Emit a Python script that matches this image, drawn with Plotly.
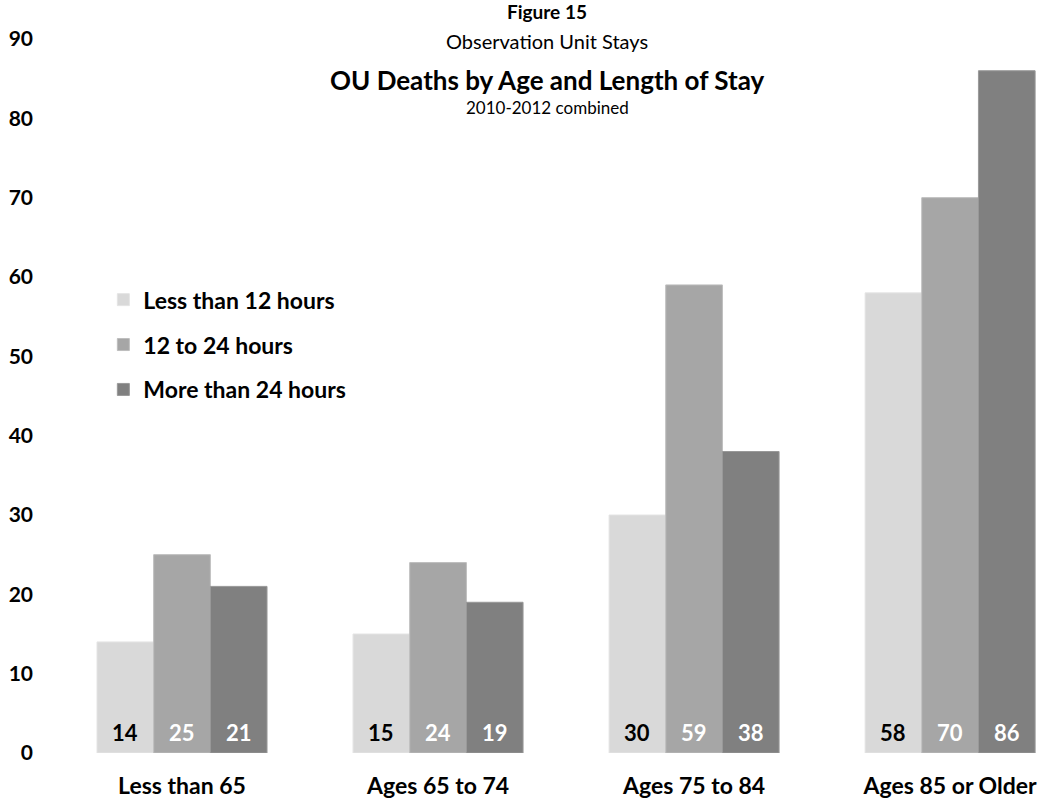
import plotly.graph_objects as go

# Age groups along the x axis
age_groups = ["Less than 65", "Ages 65 to 74", "Ages 75 to 84", "Ages 85 or Older"]

# OU deaths per length-of-stay band
less_than_12h = [14, 15, 30, 58]
from_12_to_24h = [25, 24, 59, 70]
more_than_24h = [21, 19, 38, 86]

series_names = ["Less than 12 hours", "12 to 24 hours", "More than 24 hours"]
series_values = [less_than_12h, from_12_to_24h, more_than_24h]
fill_colors = ["#D9D9D9", "#A6A6A6", "#808080"]
edge_colors = ["#E4E4E4", "#BDBDBD", "#999999"]
label_colors = ["#000000", "#FFFFFF", "#FFFFFF"]

FONT = "Lato, 'Open Sans', sans-serif"
BARGAP = 0.336

fig = go.Figure()
for i, (name, vals) in enumerate(zip(series_names, series_values)):
    fig.add_trace(go.Bar(
        x=age_groups,
        y=vals,
        name=name,
        legendgroup=name,
        marker=dict(color=fill_colors[i], line=dict(color=edge_colors[i], width=1)),
    ))

# Value labels sitting near the base of each bar
n_series = len(series_values)
bar_w = (1 - BARGAP) / n_series
for i, vals in enumerate(series_values):
    offset = (i - (n_series - 1) / 2) * bar_w
    for j, v in enumerate(vals):
        fig.add_annotation(
            x=j + offset, y=0, xref="x", yref="y",
            text=str(v), showarrow=False,
            xanchor="center", yanchor="middle", yshift=21,
            font=dict(family=FONT, size=22, color=label_colors[i], weight="bold"),
        )

fig.update_layout(
    width=1041,
    height=801,
    margin=dict(l=54, r=0, t=39, b=48),
    paper_bgcolor="white",
    plot_bgcolor="white",
    barmode="group",
    bargap=BARGAP,
    bargroupgap=0,
    font=dict(family=FONT, color="#000000"),
    showlegend=True,
    legend=dict(
        x=0.05, y=0.665, xanchor="left", yanchor="top",
        font=dict(family=FONT, size=23, color="#000000", weight="bold"),
        bgcolor="rgba(0,0,0,0)",
        traceorder="grouped",
        tracegroupgap=12,
        itemwidth=30,
    ),
    xaxis=dict(
        range=[-0.5, 3.355],
        showgrid=False, zeroline=False, showline=False,
        ticks="",
        tickfont=dict(family=FONT, size=23, color="#000000", weight="bold"),
        ticklabelstandoff=17,
    ),
    yaxis=dict(
        range=[0, 90],
        tickvals=[0, 10, 20, 30, 40, 50, 60, 70, 80, 90],
        showgrid=False, zeroline=False, showline=False,
        ticks="",
        tickfont=dict(family=FONT, size=21, color="#000000", weight="bold"),
        ticklabelstandoff=20,
    ),
)

# Stacked title block centred over the plot
title_lines = [
    ("Figure 15", 19, "bold", 12),
    ("Observation Unit Stays", 20, "normal", 41),
    ("OU Deaths by Age and Length of Stay", 26, "bold", 80),
    ("2010-2012 combined", 17, "normal", 107),
]
for text, size, weight, ypx in title_lines:
    fig.add_annotation(
        text=text,
        xref="paper", yref="paper",
        x=0.4995, y=1 - (ypx - 39) / 714,
        xanchor="center", yanchor="middle",
        showarrow=False,
        font=dict(family=FONT, size=size, color="#000000", weight=weight),
    )

fig.write_html("out.html")
